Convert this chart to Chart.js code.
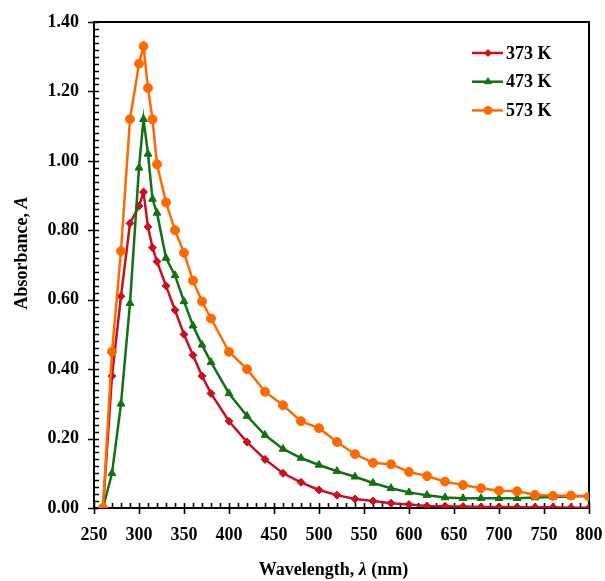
<!DOCTYPE html>
<html>
<head>
<meta charset="utf-8">
<script src="https://cdn.jsdelivr.net/npm/chart.js@4.4.1/dist/chart.umd.min.js"></script>
<style>
  html, body { margin: 0; padding: 0; background: #fff; }
</style>
</head>
<body>
<canvas id="absChart" width="605" height="581"></canvas>
<script>
// wavelengths (nm) and absorbance for each temperature
const wavelengths = [260, 270, 280, 290, 300, 305, 310, 315, 320, 330, 340, 350, 360, 370, 380,
  400, 420, 440, 460, 480, 500, 520, 540, 560, 580, 600, 620, 640, 660, 680, 700, 720, 740, 760, 780, 800];
const abs373 = [0, 0.38, 0.61, 0.82, 0.87, 0.91, 0.81, 0.75, 0.71, 0.64, 0.57, 0.50, 0.44, 0.38, 0.33,
  0.25, 0.19, 0.14, 0.10, 0.074, 0.052, 0.037, 0.026, 0.020, 0.014, 0.010, 0.006, 0.005, 0.004, 0.003, 0.003, 0.002, 0.002, 0.002, 0.001, 0.001];
const abs473 = [0, 0.10, 0.30, 0.59, 0.98, 1.12, 1.02, 0.89, 0.85, 0.72, 0.67, 0.595, 0.525, 0.47, 0.42,
  0.33, 0.265, 0.21, 0.17, 0.144, 0.124, 0.106, 0.09, 0.072, 0.057, 0.045, 0.037, 0.03, 0.028, 0.028, 0.028, 0.028, 0.03, 0.032, 0.033, 0.035];
const abs573 = [0, 0.45, 0.74, 1.12, 1.28, 1.33, 1.21, 1.12, 0.99, 0.88, 0.80, 0.735, 0.655, 0.595, 0.546,
  0.45, 0.40, 0.335, 0.296, 0.25, 0.23, 0.19, 0.155, 0.13, 0.126, 0.104, 0.092, 0.076, 0.066, 0.057, 0.05, 0.048, 0.038, 0.035, 0.036, 0.033];
const seriesLabels = ['373 K', '473 K', '573 K'];
const xTicks = [250, 300, 350, 400, 450, 500, 550, 600, 650, 700, 750, 800];
const yTicks = [0, 0.2, 0.4, 0.6, 0.8, 1.0, 1.2, 1.4];

const FONT = '"Liberation Serif", "Times New Roman", serif';

const toPoints = ys => wavelengths.map((w, i) => ({ x: w, y: ys[i] }));

const styles = [
  { color: '#C8101E', pointStyle: 'rectRot', radius: 4, order: 2 },
  { color: '#137013', pointStyle: 'triangle', radius: 4.5, order: 1 },
  { color: '#FF6A00', pointStyle: 'circle', radius: 4.5, order: 0 }
];

const datasets = [abs373, abs473, abs573].map((ys, i) => ({
  label: seriesLabels[i],
  data: toPoints(ys),
  borderColor: styles[i].color,
  backgroundColor: styles[i].color,
  pointBackgroundColor: styles[i].color,
  pointBorderColor: styles[i].color,
  pointStyle: styles[i].pointStyle,
  pointRadius: styles[i].radius,
  pointBorderWidth: 1,
  borderWidth: 2.5,
  tension: 0,
  order: styles[i].order
}));

// draws a string made of several parts with their own fonts, centred at (cx, cy)
function drawParts(ctx, parts, cx, cy) {
  let total = 0;
  parts.forEach(p => { ctx.font = p.font; total += ctx.measureText(p.text).width; });
  let x = cx - total / 2;
  ctx.textBaseline = 'middle';
  ctx.textAlign = 'left';
  parts.forEach(p => {
    ctx.font = p.font;
    ctx.fillText(p.text, x, cy);
    x += ctx.measureText(p.text).width;
  });
}

const frameAndTicks = {
  id: 'frameAndTicks',
  beforeDatasetsDraw(chart) {
    const { ctx, chartArea: a, scales: { x, y } } = chart;
    ctx.save();
    ctx.strokeStyle = '#000';
    ctx.lineWidth = 2;
    ctx.strokeRect(a.left, a.top, a.right - a.left, a.bottom - a.top);
    ctx.lineWidth = 1.6;
    ctx.beginPath();
    for (let v = 250; v <= 800; v += 10) {
      const px = Math.round(x.getPixelForValue(v)) + 0.5;
      const major = v % 50 === 0;
      ctx.moveTo(px, a.bottom - 5);
      ctx.lineTo(px, a.bottom + (major ? 6 : 0));
    }
    for (let i = 0; i <= 70; i++) {
      const py = Math.round(y.getPixelForValue(i / 50)) + 0.5;
      const major = i % 10 === 0;
      ctx.moveTo(a.left + 5, py);
      ctx.lineTo(a.left - (major ? 6 : 0), py);
    }
    ctx.stroke();
    ctx.restore();
  },
  afterDraw(chart) {
    const { ctx, chartArea: a } = chart;
    ctx.save();
    ctx.fillStyle = '#000';
    const bold = 'bold 18px ' + FONT;
    const boldItalic = 'italic bold 18px ' + FONT;

    // axis titles
    drawParts(ctx, [
      { text: 'Wavelength, ', font: bold },
      { text: 'λ', font: boldItalic },
      { text: ' (nm)', font: bold }
    ], (a.left + a.right) / 2 - 8, 570);

    ctx.save();
    ctx.translate(22, (a.top + a.bottom) / 2 - 12);
    ctx.rotate(-Math.PI / 2);
    drawParts(ctx, [
      { text: 'Absorbance, ', font: bold },
      { text: 'A', font: boldItalic }
    ], 0, 0);
    ctx.restore();

    // legend: line with marker, then label
    chart.data.datasets.forEach((ds, i) => {
      const yy = 53 + i * 28.7;
      ctx.strokeStyle = ds.borderColor;
      ctx.fillStyle = ds.borderColor;
      ctx.lineWidth = 2.5;
      ctx.beginPath();
      ctx.moveTo(472, yy);
      ctx.lineTo(503, yy);
      ctx.stroke();
      ctx.lineWidth = 1;
      Chart.helpers.drawPoint(ctx, {
        pointStyle: ds.pointStyle, radius: ds.pointRadius - 0.5, rotation: 0, borderWidth: 1
      }, 488, yy);
      ctx.fillStyle = '#000';
      ctx.font = bold;
      ctx.textAlign = 'left';
      ctx.textBaseline = 'middle';
      ctx.fillText(ds.label, 506, yy + 1);
    });
    ctx.restore();
  }
};

new Chart(document.getElementById('absChart'), {
  type: 'line',
  data: { datasets },
  plugins: [frameAndTicks],
  options: {
    responsive: false,
    animation: false,
    devicePixelRatio: 1,
    layout: { padding: { top: 22, right: 16, left: 0, bottom: 0 } },
    plugins: { legend: { display: false }, tooltip: { enabled: false } },
    scales: {
      x: {
        type: 'linear',
        min: 250,
        max: 800,
        afterBuildTicks: s => { s.ticks = xTicks.map(v => ({ value: v })); },
        afterFit: s => { s.height = 73; s.paddingLeft = 0; s.paddingRight = 0; },
        ticks: {
          color: '#000',
          font: { family: FONT, size: 18, weight: 'bold' },
          padding: 17,
          maxRotation: 0,
          autoSkip: false
        },
        grid: { display: true, drawOnChartArea: false, drawTicks: false },
        border: { display: false }
      },
      y: {
        type: 'linear',
        min: 0,
        max: 1.4,
        afterBuildTicks: s => { s.ticks = yTicks.map(v => ({ value: v })); },
        afterFit: s => { s.width = 94; s.paddingTop = 0; s.paddingBottom = 0; },
        ticks: {
          color: '#000',
          font: { family: FONT, size: 18, weight: 'bold' },
          padding: 15,
          callback: v => v.toFixed(2)
        },
        grid: { display: true, drawOnChartArea: false, drawTicks: false },
        border: { display: false }
      }
    }
  }
});
</script>
</body>
</html>
